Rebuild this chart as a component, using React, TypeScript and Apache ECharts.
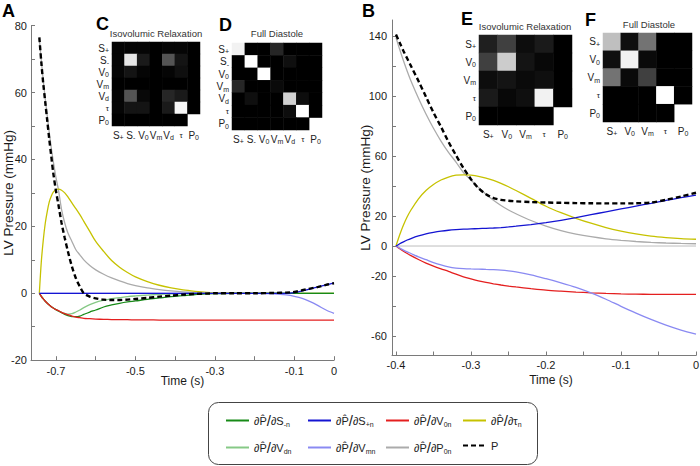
import React, { useEffect, useRef } from "react";
import * as echarts from "echarts";

// ---------- Panel A (time in s) ----------
const tA = [-0.742, -0.737, -0.732, -0.727, -0.722, -0.717, -0.712, -0.707, -0.7, -0.694, -0.686, -0.678, -0.67, -0.66, -0.65, -0.64, -0.63, -0.615, -0.6, -0.58, -0.56, -0.54, -0.52, -0.5, -0.47, -0.44, -0.41, -0.38, -0.35, -0.32, -0.3, -0.25, -0.2, -0.15, -0.12, -0.1, -0.08, -0.06, -0.04, -0.02, 0];
const pA = [76.5, 69, 62.5, 57, 51.5, 46, 41, 36, 30.5, 26.5, 21, 16.5, 12.5, 8, 4.5, 2, 0, -1, -1.5, -1.9, -2, -2, -1.9, -1.7, -1.4, -1, -0.7, -0.4, -0.2, -0.1, 0, 0, 0, 0.1, 0.2, 0.4, 0.9, 1.4, 1.9, 2.5, 3];
const p0A = [76, 69.5, 63.5, 58, 53, 48, 43.5, 39.5, 34.5, 31, 25, 21, 18, 15.5, 13, 11.5, 10, 8.3, 7, 5.7, 4.6, 3.7, 2.9, 2.3, 1.6, 1.1, 0.7, 0.4, 0.2, 0.1, 0, 0, 0, 0, 0, 0, 0, 0, 0, 0, 0];
const tauA = [0, 9.5, 16, 21, 24.5, 27.3, 29, 30.2, 31, 31.1, 30.8, 30, 28.8, 27, 25.3, 23.5, 21.5, 18.5, 15.5, 12.5, 9.8, 7.8, 6.2, 4.9, 3.5, 2.4, 1.6, 1, 0.6, 0.3, 0.2, 0.1, 0.05, 0, 0, 0, 0, 0, 0, 0, 0];
const v0A = [0, -0.9, -1.7, -2.4, -3, -3.5, -4, -4.4, -4.9, -5.2, -5.7, -6.1, -6.4, -6.8, -7.1, -7.3, -7.5, -7.6, -7.7, -7.8, -7.85, -7.9, -7.9, -7.95, -7.95, -8, -8, -8, -8, -8, -8, -8, -8, -8, -8, -8, -8, -8, -8, -8, -8];
const sMinusA = [0, -0.9, -1.7, -2.4, -3, -3.5, -4, -4.4, -4.9, -5.3, -5.8, -6.3, -6.7, -6.95, -7, -6.8, -6.3, -5.6, -5, -4.1, -3.5, -3, -2.6, -2.3, -1.8, -1.4, -1, -0.7, -0.4, -0.2, -0.1, 0, 0, 0, 0, 0, 0, 0, 0, 0, 0];
const vdA = [0, -0.9, -1.7, -2.4, -3, -3.5, -4, -4.4, -4.9, -5.3, -5.7, -6, -6.2, -6.1, -5.6, -5, -4.3, -3.4, -2.7, -2.1, -1.6, -1.3, -1, -0.8, -0.55, -0.35, -0.2, -0.1, 0, 0, 0, 0, 0, 0, 0, 0, 0, 0, 0, 0, 0];
const sPlusA = [0, 0, 0, 0, 0, 0, 0, 0, 0, 0, 0, 0, 0, 0, 0, 0, 0, 0, 0, 0, 0, 0, 0, 0, 0, 0, 0, 0, 0, 0, 0, 0, 0, 0, 0, 0.2, 0.7, 1.3, 1.9, 2.5, 3.1];
const vmA = [0, 0, 0, 0, 0, 0, 0, 0, 0, 0, 0, 0, 0, 0, 0, 0, 0, 0, 0, 0, 0, 0, 0, 0, 0, 0, 0, 0, 0, 0, 0, 0, -0.05, -0.2, -0.5, -0.9, -1.5, -2.5, -3.7, -5, -6];

// ---------- Panel B ----------
const tB = [-0.4, -0.395, -0.39, -0.385, -0.38, -0.37, -0.36, -0.35, -0.34, -0.33, -0.32, -0.31, -0.3, -0.29, -0.28, -0.27, -0.26, -0.25, -0.24, -0.22, -0.2, -0.18, -0.16, -0.14, -0.12, -0.1, -0.08, -0.06, -0.04, -0.02, 0];
const pB = [141, 135.5, 130, 125, 120, 110, 99.5, 89, 79.5, 69.5, 60.5, 52, 44.5, 38.5, 34.5, 32, 30.8, 30.2, 29.8, 29.3, 29, 28.8, 28.6, 28.5, 28.4, 28.4, 28.5, 29, 30.8, 33, 35.5];
const p0B = [139, 131, 123.5, 116.5, 110, 98.5, 88, 78.5, 70, 62.5, 56, 49, 44, 39, 34.5, 30.5, 27, 24, 21.5, 17, 13.3, 10.3, 8, 6.2, 4.8, 3.8, 3, 2.4, 2, 1.7, 1.5];
const tauB = [0, 7.5, 14, 19.5, 24, 31.5, 37, 41, 44, 46, 47.2, 47.5, 47.2, 46.5, 45.3, 43.8, 41.8, 39.5, 37, 31.8, 26.5, 22.2, 18.5, 15.2, 12.3, 10, 8.1, 6.6, 5.6, 4.9, 4.5];
const sPlusB = [0, 1.5, 2.8, 4, 5, 6.7, 8.1, 9.1, 9.9, 10.5, 10.9, 11.2, 11.4, 11.6, 11.8, 12, 12.3, 12.7, 13.2, 14.3, 15.6, 17.1, 18.9, 20.9, 22.8, 24.7, 26.6, 28.5, 30.4, 32.2, 34];
const v0B = [0, -1.8, -3.5, -5, -6.4, -9, -11.4, -13.4, -15.2, -16.9, -18.8, -20.5, -21.9, -23.2, -24.3, -25.2, -26, -26.7, -27.3, -28.4, -29.4, -30.1, -30.7, -31.2, -31.6, -31.9, -32.1, -32.2, -32.2, -32.2, -32.2];
const vmB = [0, -1.4, -2.7, -3.9, -5, -7.2, -9.1, -11, -12.6, -13.9, -14.7, -15.1, -15.3, -15.4, -15.6, -15.8, -16.1, -16.6, -17.3, -19.3, -21.8, -24.5, -27.5, -31.2, -35.5, -40.2, -44.7, -48.9, -52.7, -56, -58.7];
const zeroLineT = [-0.4, 0];
const zeroLineV = [0, 0];

// ---------- Axis ticks / labels ----------
const xTicksA = [-0.7, -0.6, -0.5, -0.4, -0.3, -0.2, -0.1, 0];
const xLabelsA = [-0.7, -0.5, -0.3, -0.1, 0];
const yTicksA = [-20, -10, 0, 10, 20, 30, 40, 50, 60, 70, 80];
const yLabelsA = [-20, 0, 20, 40, 60, 80];
const xTicksB = [-0.4, -0.35, -0.3, -0.25, -0.2, -0.15, -0.1, -0.05, 0];
const xLabelsB = [-0.4, -0.3, -0.2, -0.1, 0];
const yTicksB = [-60, -40, -20, 0, 20, 40, 60, 80, 100, 120, 140];
const yLabelsB = [-60, -20, 0, 20, 60, 100, 140];

// ---------- Correlation matrices ----------
const paramsCD = ["S+", "S-", "V0", "Vm", "Vd", "τ", "P0"];
const paramsEF = ["S+", "V0", "Vm", "τ", "P0"];
const matC = [
  [0.02, 0.02, 0.02, 0, 0.02, 0.02, 0],
  [0.02, 0.9, 0.1, 0, 0.33, 0.08, 0],
  [0.02, 0.08, 0.02, 0, 0.02, 0.06, 0],
  [0, 0, 0, 0, 0, 0, 0],
  [0.02, 0.33, 0.03, 0, 0.15, 0.1, 0],
  [0.02, 0.08, 0.08, 0, 0.1, 0.97, 0],
  [0, 0, 0, 0, 0, 0, null],
];
const matD = [
  [0.95, 0, 0, 0.15, 0, 0, 0],
  [0, 1, 0, 0, 0.06, 0, 0],
  [0, 0, 1, 0, 0, 0, 0],
  [0.15, 0, 0, 0.04, 0, 0, 0],
  [0, 0.06, 0, 0, 0.82, 0.05, 0],
  [0, 0, 0, 0, 0.05, 1, 0],
  [0, 0, 0, 0, 0, 0, null],
];
const matE = [
  [0.12, 0.25, 0.05, 0.1, 0],
  [0.25, 0.8, 0.08, 0.03, 0],
  [0.05, 0.08, 0.04, 0.06, 0],
  [0.1, 0.03, 0.06, 0.95, 0],
  [0, 0, 0, 0, null],
];
const matF = [
  [0.75, 0.06, 0.45, 0, 0],
  [0.06, 0.95, 0.04, 0, 0],
  [0.45, 0.04, 0.25, 0, 0],
  [0, 0, 0, 1, 0],
  [0, 0, 0, 0, null],
];

// ---------- Legend ----------
const legendNames = ["S-", "S+", "V0", "tau", "Vd", "Vm", "P0", "P"];
const legendSubs: Record<string, string> = {
  "S-": "{la|∂P\u0302}{lb|/}{la|∂S}{ls|-n}",
  "S+": "{la|∂P\u0302}{lb|/}{la|∂S}{ls|+n}",
  V0: "{la|∂P\u0302}{lb|/}{la|∂V}{ls|0n}",
  tau: "{la|∂P\u0302}{lb|/}{la|∂τ}{ls|n}",
  Vd: "{la|∂P\u0302}{lb|/}{la|∂V}{ls|dn}",
  Vm: "{la|∂P\u0302}{lb|/}{la|∂V}{ls|mn}",
  P0: "{la|∂P\u0302}{lb|/}{la|∂P}{ls|0n}",
  P: "{la|P}",
};

const COLORS: Record<string, string> = {
  "S-": "#178a17",
  "S+": "#1414d2",
  V0: "#e41f1f",
  tau: "#c6c200",
  Vd: "#86c986",
  Vm: "#8a8af2",
  P0: "#ababab",
  P: "#000000",
};

const FONT = "'Liberation Sans', Arial, sans-serif";
const INK = "#222222";

function paramLabel(v: string): string {
  const m: Record<string, string> = {
    "S+": "{pm|S}{ps|+}",
    "S-": "{pm|S}{ps|-}",
    V0: "{pm|V}{ps|0}",
    Vm: "{pm|V}{ps|m}",
    Vd: "{pm|V}{ps|d}",
    "τ": "{pt|τ}",
    P0: "{pm|P}{ps|0}",
  };
  return m[v] || v;
}

const paramRich = {
  pm: { fontSize: 10, color: INK, lineHeight: 12, fontFamily: FONT },
  pt: { fontSize: 8, color: INK, lineHeight: 12, fontFamily: FONT },
  ps: { fontSize: 7, color: INK, lineHeight: 5, verticalAlign: "bottom", fontFamily: FONT },
};

function matData(mat: (number | null)[][]) {
  const out: number[][] = [];
  mat.forEach((row, r) =>
    row.forEach((v, c) => {
      if (v !== null) out.push([c, r, v]);
    })
  );
  return out;
}

export default function App() {
  const ref = useRef<HTMLDivElement>(null);

  useEffect(() => {
    if (!ref.current) return;
    const chart = echarts.init(ref.current, null, { renderer: "svg" });

    const axisLine = { show: true, lineStyle: { color: "#7a7a7a", width: 1 } };
    const tick = (vals: number[]) => ({
      show: true,
      inside: true,
      length: 4,
      customValues: vals,
      lineStyle: { color: "#7a7a7a" },
    });
    const label = (vals: number[], margin: number) => ({
      customValues: vals,
      color: "#1a1a1a",
      fontSize: 11,
      margin,
      fontFamily: FONT,
      formatter: (v: number) => String(v),
    });

    const lineSeries = (
      name: string,
      t: number[],
      v: number[],
      idx: number,
      z: number,
      extra: any = {}
    ) => ({
      type: "line",
      name,
      xAxisIndex: idx,
      yAxisIndex: idx,
      data: t.map((x, i) => [x, v[i]]),
      symbol: "none",
      smooth: 0.3,
      z,
      lineStyle: { color: COLORS[name] || "#bbb", width: 1.3, ...(extra.lineStyle || {}) },
      itemStyle: { color: COLORS[name] || "#bbb" },
      emphasis: { disabled: true },
    });

    const dashed = { lineStyle: { width: 2.4, type: [5, 3] } };

    const series: any[] = [
      lineSeries("P0", tA, p0A, 0, 2),
      lineSeries("tau", tA, tauA, 0, 3),
      lineSeries("Vd", tA, vdA, 0, 4),
      lineSeries("S-", tA, sMinusA, 0, 5),
      lineSeries("V0", tA, v0A, 0, 6),
      lineSeries("Vm", tA, vmA, 0, 7),
      lineSeries("S+", tA, sPlusA, 0, 8),
      lineSeries("P", tA, pA, 0, 9, dashed),
      {
        type: "line",
        name: "zero",
        xAxisIndex: 1,
        yAxisIndex: 1,
        data: zeroLineT.map((x, i) => [x, zeroLineV[i]]),
        symbol: "none",
        z: 1,
        lineStyle: { color: "#bdbdbd", width: 1 },
        emphasis: { disabled: true },
      },
      lineSeries("P0", tB, p0B, 1, 2),
      lineSeries("tau", tB, tauB, 1, 3),
      lineSeries("V0", tB, v0B, 1, 6),
      lineSeries("Vm", tB, vmB, 1, 7),
      lineSeries("S+", tB, sPlusB, 1, 8),
      lineSeries("P", tB, pB, 1, 9, dashed),
    ];
    const heatStart = series.length;
    [matC, matD, matE, matF].forEach((m, i) => {
      series.push({
        type: "heatmap",
        xAxisIndex: 2 + i,
        yAxisIndex: 2 + i,
        data: matData(m),
        itemStyle: { borderWidth: 0 },
        emphasis: { disabled: true },
      });
    });

    const gridBase = { outerBoundsMode: "none", containLabel: false };
    const heatGrids = [
      { ...gridBase, left: 112, top: 42, width: 88, height: 84 },
      { ...gridBase, left: 232, top: 43, width: 90, height: 87 },
      { ...gridBase, left: 479, top: 35, width: 93, height: 90 },
      { ...gridBase, left: 603, top: 33, width: 89, height: 89 },
    ];
    const heatParams = [paramsCD, paramsCD, paramsEF, paramsEF];

    const catLabel = {
      interval: 0,
      margin: 3,
      color: INK,
      fontSize: 10,
      fontFamily: FONT,
      formatter: paramLabel,
      rich: paramRich,
    };
    const catX = (i: number) => ({
      type: "category",
      gridIndex: 2 + i,
      data: heatParams[i],
      position: "bottom",
      axisLine: { show: false },
      axisTick: { show: false },
      splitLine: { show: false },
      axisLabel: catLabel,
    });
    const catY = (i: number) => ({
      type: "category",
      gridIndex: 2 + i,
      data: heatParams[i],
      inverse: true,
      axisLine: { show: false },
      axisTick: { show: false },
      splitLine: { show: false },
      axisLabel: catLabel,
    });

    const legendCols = [225, 307, 385, 462];
    const legendRows = [413, 440];
    const legends = legendNames.map((n, i) => ({
      data: [n],
      left: legendCols[i % 4],
      top: legendRows[Math.floor(i / 4)],
      itemWidth: 23,
      itemHeight: 12,
      padding: 0,
      itemGap: 0,
      selectedMode: false,
      itemStyle: { opacity: 0 },
      formatter: (name: string) => legendSubs[name] || name,
      textStyle: {
        fontSize: 11,
        color: INK,
        fontFamily: FONT,
        rich: {
          la: { fontSize: 11, color: INK, fontFamily: FONT },
          lb: { fontSize: 15, color: INK, fontFamily: FONT },
          ls: { fontSize: 7, color: INK, verticalAlign: "bottom", lineHeight: 5, fontFamily: FONT },
        },
      },
    }));

    const txt = (text: string, x: number, y: number, size: number, bold = false, align = "left") => ({
      type: "text",
      x,
      y,
      silent: true,
      style: {
        text,
        fontSize: size,
        fontWeight: bold ? "bold" : "normal",
        fontFamily: FONT,
        fill: bold ? "#000" : "#333",
        textAlign: align,
        textVerticalAlign: "middle",
      },
    });

    const option: any = {
      animation: false,
      textStyle: { fontFamily: FONT, color: INK },
      grid: [
        { ...gridBase, left: 31, top: 25.6, width: 303, height: 334.6 },
        { ...gridBase, left: 392, top: 20, width: 304, height: 335.5 },
        ...heatGrids,
      ],
      xAxis: [
        {
          type: "value",
          gridIndex: 0,
          min: -0.763,
          max: 0,
          name: "Time (s)",
          nameLocation: "middle",
          nameGap: 15,
          nameMoveOverlap: false,
          nameTextStyle: { fontSize: 12, color: "#1a1a1a", fontFamily: FONT },
          axisLine: { ...axisLine, onZero: false },
          axisTick: tick(xTicksA),
          axisLabel: label(xLabelsA, 5),
          splitLine: { show: false },
        },
        {
          type: "value",
          gridIndex: 1,
          min: -0.4053,
          max: 0,
          name: "Time (s)",
          nameLocation: "middle",
          nameGap: 18,
          nameMoveOverlap: false,
          nameTextStyle: { fontSize: 12, color: "#1a1a1a", fontFamily: FONT, padding: [0, 0, 0, 14] },
          axisLine: { ...axisLine, onZero: false },
          axisTick: tick(xTicksB),
          axisLabel: label(xLabelsB, 4),
          splitLine: { show: false },
        },
        catX(0),
        catX(1),
        catX(2),
        catX(3),
      ],
      yAxis: [
        {
          type: "value",
          gridIndex: 0,
          min: -20,
          max: 80,
          name: "LV Pressure (mmHg)",
          nameLocation: "middle",
          nameGap: 16,
          nameMoveOverlap: false,
          nameTextStyle: { fontSize: 13.5, color: "#1a1a1a", fontFamily: FONT },
          axisLine: { ...axisLine, onZero: false },
          axisTick: tick(yTicksA),
          axisLabel: label(yLabelsA, 4),
          splitLine: { show: false },
        },
        {
          type: "value",
          gridIndex: 1,
          min: -73,
          max: 150.7,
          name: "LV Pressure (mmHg)",
          nameLocation: "middle",
          nameGap: 20,
          nameMoveOverlap: false,
          nameTextStyle: { fontSize: 13.5, color: "#1a1a1a", fontFamily: FONT },
          axisLine: { ...axisLine, onZero: false },
          axisTick: tick(yTicksB),
          axisLabel: label(yLabelsB, 5),
          splitLine: { show: false },
        },
        catY(0),
        catY(1),
        catY(2),
        catY(3),
      ],
      visualMap: {
        type: "continuous",
        show: false,
        min: 0,
        max: 1,
        seriesIndex: [heatStart, heatStart + 1, heatStart + 2, heatStart + 3],
        inRange: { color: ["#000000", "#ffffff"] },
      },
      legend: legends,
      graphic: [
        txt("A", 2, 11, 18, true),
        txt("B", 362, 11, 18, true),
        txt("C", 96, 24, 18, true),
        txt("D", 219, 25, 18, true),
        txt("E", 461, 19, 18, true),
        txt("F", 585, 20, 18, true),
        txt("Isovolumic Relaxation", 156, 33, 9.5, false, "center"),
        txt("Full Diastole", 277, 33, 9.5, false, "center"),
        txt("Isovolumic Relaxation", 525, 26, 9.5, false, "center"),
        txt("Full Diastole", 649, 24, 9.5, false, "center"),
        {
          type: "rect",
          silent: true,
          shape: { x: 208.5, y: 402.5, width: 329, height: 62, r: 10 },
          style: { fill: "none", stroke: "#444", lineWidth: 1 },
        },
      ],
      series,
    };

    chart.setOption(option);
    return () => chart.dispose();
  }, []);

  return (
    <div
      ref={ref}
      style={{ position: "fixed", left: 0, top: 0, width: 700, height: 466, background: "#fff" }}
    />
  );
}
